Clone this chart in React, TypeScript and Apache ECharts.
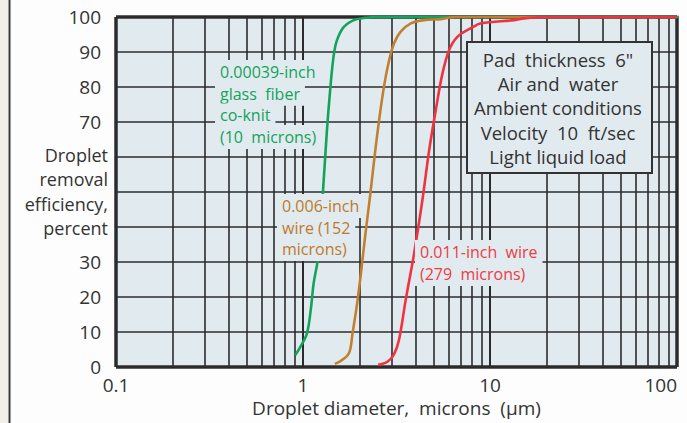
import React, { useEffect, useRef } from "react";
import * as echarts from "echarts";

// ---- data ----
const xTickLabels = ["0.1", "1", "10", "100"];
const yTickLabels = [0, 10, 20, 30, 70, 80, 90, 100];
const gridMultipliers = [2, 3, 4, 5, 6, 7, 8, 9];
const gridDecades = [0.1, 1, 10];

const greenX = [0.91, 0.97, 1.05, 1.1, 1.14, 1.2, 1.27, 1.34, 1.4, 1.46, 1.52, 1.65, 1.87, 2.1, 2.5, 100, 115];
const greenY = [3.4, 5.8, 9.6, 16.3, 23.9, 30.8, 47.7, 66.9, 79.7, 89.1, 93.4, 97.1, 99.1, 99.7, 100, 100, 100];

const brownX = [1.48, 1.59, 1.76, 1.84, 1.97, 2.18, 2.27, 2.5, 2.71, 2.89, 3.07, 3.33, 3.77, 4.44, 5.46, 6.5, 100];
const brownY = [0.9, 1.7, 3.9, 9.6, 20.1, 40.1, 47.7, 66.8, 80.1, 87.7, 92.5, 95.8, 98.2, 99.1, 99.4, 100, 100];

const redX = [2.52, 2.83, 3.07, 3.26, 3.54, 3.93, 4.35, 4.73, 5.13, 5.57, 6.05, 6.71, 7.91, 8.95, 13.5, 15.2, 20, 100];
const redY = [0.6, 1.5, 3.7, 7.7, 19.1, 32.5, 47.7, 62, 73.4, 83.9, 90.6, 94.4, 96.8, 98.2, 99.1, 99.6, 100, 100];

const greenLabel = ["0.00039-inch", "glass  fiber", "co-knit", "(10  microns)"];
const brownLabel = ["0.006-inch", "wire (152", "microns)"];
const redLabel = ["0.011-inch  wire", "(279  microns)"];
const infoLines = ["Pad  thickness  6\"", "Air and  water", "Ambient conditions", "Velocity  10  ft/sec", "Light liquid load"];
const yTitleLines = ["Droplet", "removal", "efficiency,", "percent"];
const xTitle = "Droplet diameter,  microns  (\u00b5m)";

const PLOT_BG = "#e1eaef";
const GRID_C = "#2b2b2b";
const FONT = "Open Sans";

function pairs(xs: number[], ys: number[]) {
  return xs.map((x, i) => [x, ys[i]]);
}

export default function App() {
  const ref = useRef<HTMLDivElement>(null);
  useEffect(() => {
    const chart = echarts.init(ref.current!, undefined, { renderer: "svg" });
    const minorLines: number[] = [];
    gridDecades.forEach((d) => gridMultipliers.forEach((m) => minorLines.push(+(d * m).toPrecision(3))));

    const lineTexts = (lines: string[], x: number, y0: number, dy: number, color: string) =>
      lines.map((t, i) => ({
        type: "text",
        z: 50,
        style: {
          text: t,
          x,
          y: y0 + i * dy,
          fill: color,
          fontSize: 16,
          fontFamily: FONT,
          verticalAlign: "middle",
          backgroundColor: PLOT_BG,
          padding: [4, 5, 4, 5],
        },
      }));

    const graphic: any[] = [
      { type: "rect", z: 60, shape: { x: 0, y: 0, width: 8, height: 423 }, style: { fill: "#f2eee8" } },
      { type: "line", z: 60, shape: { x1: 9.5, y1: 0, x2: 9.5, y2: 423 }, style: { stroke: "#3a3a3a", lineWidth: 2 } },
      ...lineTexts(greenLabel, 215, 72, 21.7, "#13a35a"),
      ...lineTexts(brownLabel, 277, 206, 21.5, "#bd7a2c"),
      ...lineTexts(redLabel, 415, 252, 22, "#ee3b45"),
      {
        type: "rect",
        z: 50,
        shape: { x: 467, y: 42, width: 185, height: 131 },
        style: { fill: PLOT_BG, stroke: "#333", lineWidth: 2 },
      },
      ...infoLines.map((t, i) => ({
        type: "text",
        z: 51,
        style: {
          text: t,
          x: 558,
          y: 59.5 + i * 24.2,
          fill: "#333",
          fontSize: 18.5,
          fontFamily: FONT,
          align: "center",
          verticalAlign: "middle",
        },
      })),
      ...yTitleLines.map((t, i) => ({
        type: "text",
        z: 51,
        style: {
          text: t,
          x: 108,
          y: 155 + i * 24.3,
          fill: "#333",
          fontSize: 18,
          fontFamily: FONT,
          align: "right",
          verticalAlign: "middle",
        },
      })),
    ];

    const curve = (name: string, data: number[][], color: string, clip = true) => ({
      type: "line",
      name,
      data,
      z: 5,
      smooth: 0.35,
      symbol: "none",
      clip,
      lineStyle: { color, width: 2.6 },
    });

    chart.setOption({
      animation: false,
      backgroundColor: "#fdfdfd",
      textStyle: { fontFamily: FONT },
      grid: {
        left: 116,
        top: 17,
        right: 10,
        bottom: 56,
        show: true,
        backgroundColor: PLOT_BG,
        borderColor: GRID_C,
        borderWidth: 0,
      },
      xAxis: {
        type: "log",
        logBase: 10,
        min: 0.1,
        max: 100,
        axisLine: { show: false },
        axisTick: { show: false },
        splitLine: { show: true, lineStyle: { color: GRID_C, width: 2 } },
        axisLabel: {
          fontSize: 19,
          color: "#333",
          margin: 8,
          alignMaxLabel: "right",
          formatter: (v: number) => {
            const idx = [0.1, 1, 10, 100].findIndex((t) => Math.abs(t - v) / t < 1e-6);
            return idx >= 0 ? xTickLabels[idx] : "";
          },
        },
        name: xTitle,
        nameLocation: "middle",
        nameGap: 29,
        nameTextStyle: { fontSize: 19, color: "#333", fontFamily: FONT },
      },
      yAxis: {
        type: "value",
        min: 0,
        max: 100,
        interval: 10,
        axisLine: { show: false },
        axisTick: { show: false },
        splitLine: { show: true, lineStyle: { color: GRID_C, width: 1.6 } },
        axisLabel: {
          fontSize: 19,
          color: "#333",
          margin: 15,
          formatter: (v: number) => (yTickLabels.includes(v) ? String(v) : ""),
        },
      },
      graphic,
      series: [
        {
          type: "line",
          name: "grid",
          z: 1,
          data: [[0.1, 0]],
          symbol: "none",
          lineStyle: { opacity: 0 },
          silent: true,
          markLine: {
            silent: true,
            symbol: ["none", "none"],
            label: { show: false },
            lineStyle: { color: GRID_C, width: 1.6, type: "solid" },
            data: minorLines.map((v) => ({ xAxis: v })),
          },
        },
        curve("green", pairs(greenX, greenY), "#13a35a", false),
        curve("brown", pairs(brownX, brownY), "#c0802f"),
        curve("red", pairs(redX, redY), "#ef3340"),
        {
          type: "line",
          name: "frame",
          z: 4,
          data: [],
          markLine: {
            silent: true,
            symbol: ["none", "none"],
            label: { show: false },
            lineStyle: { color: GRID_C, width: 3.5, type: "solid" },
            data: [{ xAxis: 0.1 }, { xAxis: 100 }, { yAxis: 0 }, { yAxis: 100 }],
          },
        },
      ],
    });
    return () => chart.dispose();
  }, []);
  return <div ref={ref} style={{ position: "fixed", left: 0, top: 0, width: 687, height: 423 }} />;
}
